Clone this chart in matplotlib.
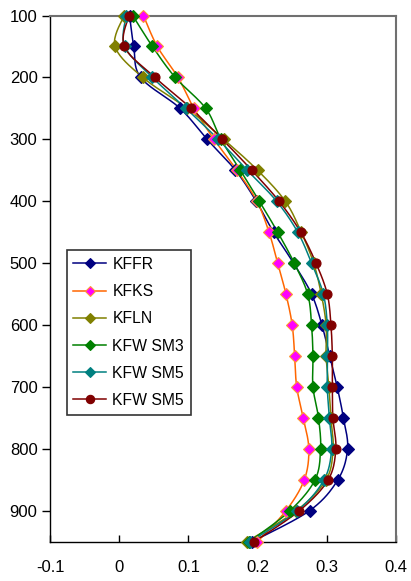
import numpy as np
import matplotlib
matplotlib.use("Agg")
import matplotlib.pyplot as plt
from matplotlib.lines import Line2D

plt.rcParams['font.family'] = ['Liberation Sans', 'DejaVu Sans']

levels = [100, 150, 200, 250, 300, 350, 400, 450, 500, 550, 600, 650, 700, 750, 800, 850, 900, 950]

kffr = [0.015, 0.021, 0.031, 0.088, 0.127, 0.168, 0.198, 0.223, 0.252, 0.278, 0.293, 0.304, 0.315, 0.324, 0.330, 0.316, 0.275, 0.192]
kfks = [0.035, 0.055, 0.085, 0.108, 0.137, 0.170, 0.199, 0.2165, 0.229, 0.241, 0.250, 0.2536, 0.2565, 0.266, 0.274, 0.2675, 0.241, 0.1996]
kfln = [0.007, -0.006, 0.034, 0.098, 0.151, 0.200, 0.240, 0.263, 0.281, 0.292, 0.299, 0.299, 0.303, 0.306, 0.309, 0.299, 0.256, 0.184]
kfwsm3 = [0.0195, 0.048, 0.081, 0.125, 0.147, 0.175, 0.2025, 0.229, 0.253, 0.2724, 0.278, 0.280, 0.280, 0.288, 0.291, 0.283, 0.2468, 0.188]
kfwsm5a = [0.010, 0.008, 0.048, 0.0965, 0.143, 0.185, 0.2275, 0.258, 0.278, 0.295, 0.3007, 0.301, 0.3007, 0.3037, 0.307, 0.296, 0.2574, 0.189]
kfwsm5b = [0.014, 0.0074, 0.0517, 0.1038, 0.149, 0.1915, 0.231, 0.2623, 0.2844, 0.3007, 0.306, 0.308, 0.308, 0.3088, 0.313, 0.302, 0.2603, 0.1948]

series_names = ["KFFR", "KFKS", "KFLN", "KFW SM3", "KFW SM5", "KFW SM5"]
series_values = [kffr, kfks, kfln, kfwsm3, kfwsm5a, kfwsm5b]
line_colors = ["#000080", "#FF6600", "#808000", "#008000", "#008080", "#800000"]
marker_faces = ["#000080", "#FF00FF", "#808000", "#008000", "#008080", "#800000"]
marker_edges = ["#000080", "#FF9933", "#808000", "#008000", "#008080", "#800000"]
markers = ["D", "D", "D", "D", "D", "o"]

x_ticks = [-0.1, 0, 0.1, 0.2, 0.3, 0.4]
x_ticklabels = ["-0.1", "0", "0.1", "0.2", "0.3", "0.4"]
y_ticks = [100, 200, 300, 400, 500, 600, 700, 800, 900]


def smooth(xs, ys, n=20):
    p = np.column_stack([xs, ys]).astype(float)
    p_ext = np.vstack([p[0], p, p[-1]])
    out = []
    for i in range(len(p) - 1):
        p0, p1, p2, p3 = p_ext[i], p_ext[i + 1], p_ext[i + 2], p_ext[i + 3]
        c1 = p1 + (p2 - p0) / 6.0
        c2 = p2 - (p3 - p1) / 6.0
        t = np.linspace(0, 1, n, endpoint=(i == len(p) - 2))[:, None]
        seg = ((1 - t) ** 3) * p1 + 3 * ((1 - t) ** 2) * t * c1 + 3 * (1 - t) * t ** 2 * c2 + t ** 3 * p2
        out.append(seg)
    out = np.vstack(out)
    return out[:, 0], out[:, 1]


fig = plt.figure(figsize=(4.11, 5.81), dpi=100)
ax = fig.add_axes([50 / 411, 1 - 541.7 / 581, 346 / 411, 526.2 / 581])

handles = []
for name, vals, lc, mf, me, mk in zip(series_names, series_values, line_colors, marker_faces, marker_edges, markers):
    sx, sy = smooth(vals, levels)
    ax.plot(sx, sy, color=lc, lw=1.1, zorder=2, clip_on=False)
    ax.plot(vals, levels, linestyle="none", marker=mk, markersize=6 if mk == "D" else 6.5,
            markerfacecolor=mf, markeredgecolor=me, markeredgewidth=0.8, zorder=3, clip_on=False)
    handles.append(Line2D([0], [0], color=lc, lw=1.1, marker=mk, markersize=5.5 if mk == "D" else 6,
                          markerfacecolor=mf, markeredgecolor=me, markeredgewidth=0.8))

ax.set_xlim(-0.1, 0.4)
ax.set_ylim(950, 100)
ax.set_xticks(x_ticks)
ax.set_xticklabels(x_ticklabels)
ax.set_yticks(y_ticks)
ax.tick_params(axis='x', direction='in', length=5, width=1, pad=13, labelsize=12, colors='black')
ax.tick_params(axis='y', direction='out', length=6, width=1, pad=3, labelsize=12, colors='black')

for side in ['left', 'bottom']:
    ax.spines[side].set_color('black')
    ax.spines[side].set_linewidth(1.0)
for side in ['top', 'right']:
    ax.spines[side].set_color('#707070')
    ax.spines[side].set_linewidth(1.5)

leg = ax.legend(handles, series_names, loc='upper left', bbox_to_anchor=(0.048, 0.554),
                borderaxespad=0, frameon=True, fancybox=False, fontsize=11.3,
                handlelength=2.1, handletextpad=0.4, labelspacing=0.78, borderpad=0.42)
leg.get_frame().set_edgecolor('black')
leg.get_frame().set_linewidth(1.2)

fig.savefig("out.png", dpi=100)
